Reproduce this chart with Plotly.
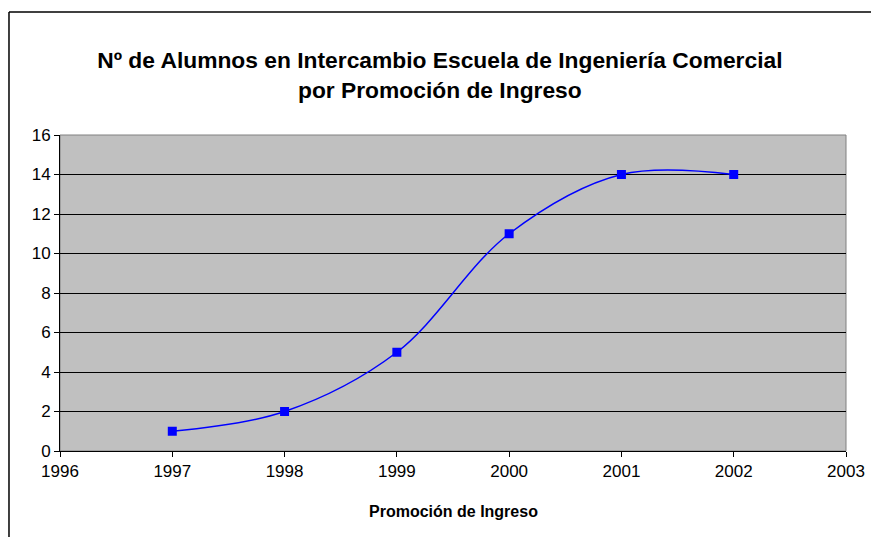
import plotly.graph_objects as go

# datos
promocion = [1997, 1998, 1999, 2000, 2001, 2002]
alumnos = [1, 2, 5, 11, 14, 14]

x_ticks = [1996, 1997, 1998, 1999, 2000, 2001, 2002, 2003]
y_ticks = [0, 2, 4, 6, 8, 10, 12, 14, 16]

fig = go.Figure(go.Scatter(
    x=promocion, y=alumnos,
    mode="lines+markers",
    line=dict(color="#0000FF", width=1.5, shape="spline", smoothing=1),
    marker=dict(symbol="square", size=9, color="#0000FF"),
    showlegend=False,
))

fig.update_layout(
    width=871, height=537,
    margin=dict(l=60, r=25, t=135, b=86, autoexpand=False),
    paper_bgcolor="white",
    plot_bgcolor="#C0C0C0",
    font=dict(family="Liberation Sans, Arial, sans-serif", color="black"),
    title=dict(
        text="<b>Nº de Alumnos en Intercambio Escuela de Ingeniería Comercial<br>por Promoción de Ingreso</b>",
        x=0.505, xanchor="center", yref="container", y=1 - 68 / 537, yanchor="middle",
        font=dict(size=22.8),
    ),
)

fig.update_xaxes(
    range=[1996, 2003], tickvals=x_ticks, showgrid=False, zeroline=False,
    showline=True, linecolor="black", linewidth=1,
    ticks="outside", ticklen=5, tickcolor="black",
    tickfont=dict(size=17), automargin=False,
)
fig.update_yaxes(
    range=[0, 16], tickvals=y_ticks, showgrid=True, gridcolor="black", gridwidth=1,
    zeroline=False, showline=True, linecolor="black", linewidth=1,
    ticks="outside", ticklen=5, tickcolor="black",
    tickfont=dict(size=17), automargin=False,
)

# titulo del eje x
fig.add_annotation(text="<b>Promoción de Ingreso</b>", xref="paper", yref="paper",
                   x=0.5, y=(451 - 511) / 316, xanchor="center", yanchor="middle",
                   showarrow=False, font=dict(size=16))

# borde gris del area de trazado (arriba y derecha)
fig.add_shape(type="rect", xref="paper", yref="paper", x0=0, y0=0, x1=1, y1=1,
              line=dict(color="#808080", width=1), layer="below")
# marco exterior del grafico: solo se ven el borde superior y el izquierdo
fig.add_shape(type="line", xref="paper", yref="paper", x0=-0.0649, y0=1.389, x1=1.2, y1=1.389,
              line=dict(color="black", width=1.5))
fig.add_shape(type="line", xref="paper", yref="paper", x0=-0.0649, y0=-0.4, x1=-0.0649, y1=1.389,
              line=dict(color="black", width=1.5))

fig.write_html("out.html", config={"displayModeBar": False},
               post_script="document.body.style.margin='0';")
